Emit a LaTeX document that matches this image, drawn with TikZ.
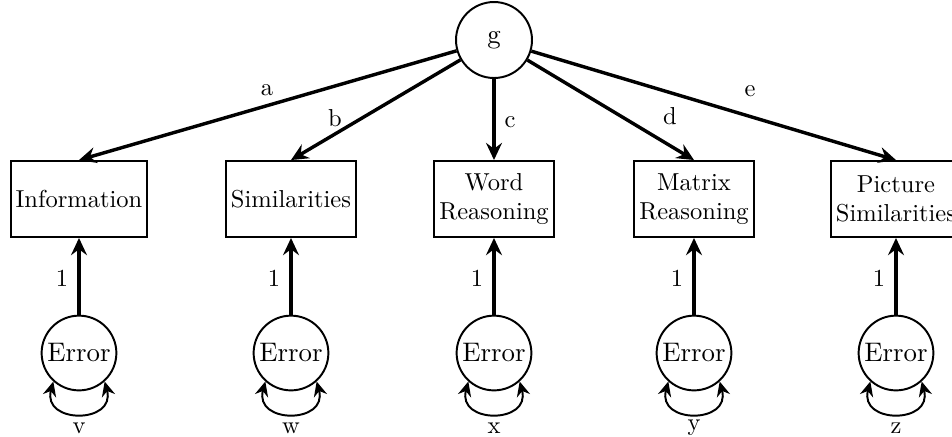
\documentclass[tikz,border=0pt]{standalone}
\usetikzlibrary{arrows.meta}
\begin{document}
\begin{tikzpicture}[x=0.408pt,y=0.408pt,
  latent/.style={draw, circle, thick, minimum size=31pt, inner sep=0pt, font=\fontsize{10.95}{13.6}\selectfont},
  errnode/.style={draw, circle, thick, minimum size=30.5pt, inner sep=0pt, font=\fontsize{10.95}{13.6}\selectfont},
  obs/.style={draw, rectangle, thick, inner xsep=2pt, inner ysep=2pt, minimum height=31pt, align=center},
  load/.style={line width=1.4pt, -{Stealth[length=7pt,width=6.5pt,inset=2.4pt]}},
  selfloop/.style={thick, {Stealth[length=6pt,width=5.5pt,inset=2pt]}-{Stealth[length=6pt,width=5.5pt,inset=2pt]}},
  lbl/.style={inner sep=0pt}]
\useasboundingbox (0,0) rectangle (952,-436);
\node[latent] (g) at (494,-40) {g};
\node[obs] (o1) at (79,-199) {Information};
\node[obs] (o2) at (291,-199) {Similarities};
\node[obs] (o3) at (494,-199) {Word\\Reasoning};
\node[obs] (o4) at (694,-199) {Matrix\\Reasoning};
\node[obs] (o5) at (896,-199) {Picture\\Similarities};
\foreach \i/\x in {1/79,2/291,3/494,4/694,5/896}{
  \node[errnode] (e\i) at (\x,-353) {Error};
}
\draw[load] (g) -- (o1.north);
\draw[load] (g) -- (o2.north);
\draw[load] (g) -- (o3.north);
\draw[load] (g) -- (o4.north);
\draw[load] (g) -- (o5.north);
\node[lbl] (la) at (267,-90) {a};
\node[lbl] (lb) at (335,-118) {b};
\node[lbl] (lc) at (510,-122) {c};
\node[lbl] (ld) at (670,-116) {d};
\node[lbl] (le) at (750,-91) {e};
\foreach \i/\x/\n in {1/79/v,2/291/w,3/494/x,4/694/y,5/896/z}{
  \draw[load] (e\i) -- (o\i);
  \node[lbl] (one\i) at (\x-17,-278) {1};
  \draw[selfloop] (e\i.228) to[out=255,in=285,distance=18pt] (e\i.312);
  \node[lbl] (v\i) at (\x,-428) {\n};
}
\end{tikzpicture}
\end{document}
